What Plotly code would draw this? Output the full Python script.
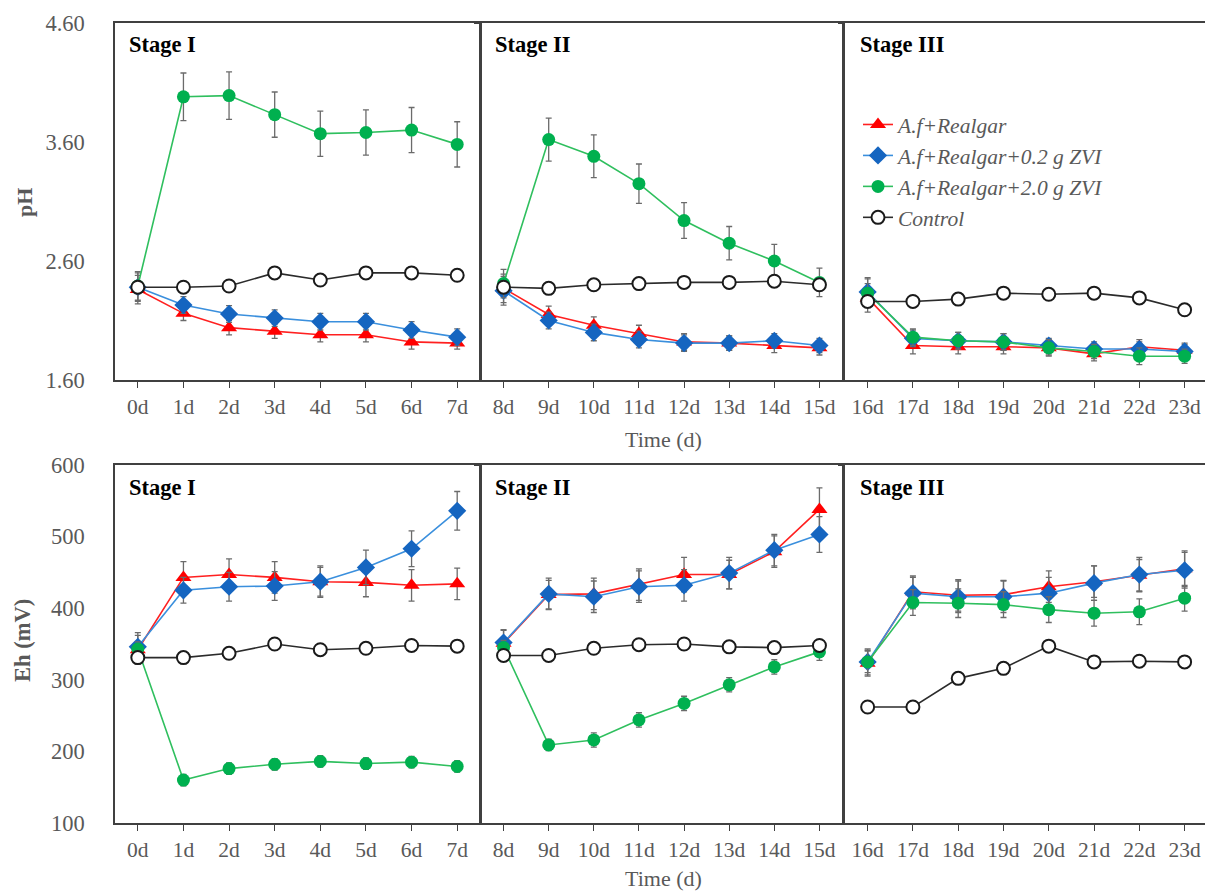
import plotly.graph_objects as go

# ---------------- data ----------------
days = list(range(24))
day_labels = [f"{d}d" for d in days]
stages = ["Stage I", "Stage II", "Stage III"]
series_names = ["A.f+Realgar", "A.f+Realgar+0.2 g ZVI", "A.f+Realgar+2.0 g ZVI", "Control"]

ph_red = [2.36, 2.16, 2.04, 2.01, 1.98, 1.98, 1.92, 1.91,
          2.37, 2.15, 2.06, 1.99, 1.92, 1.91, 1.89, 1.87,
          2.29, 1.89, 1.88, 1.88, 1.87, 1.82, 1.88, 1.85]
ph_blue = [2.38, 2.23, 2.155, 2.12, 2.09, 2.09, 2.02, 1.96,
           2.35, 2.10, 2.00, 1.94, 1.91, 1.91, 1.93, 1.89,
           2.34, 1.95, 1.93, 1.92, 1.89, 1.86, 1.86, 1.84]
ph_green = [2.39, 3.98, 3.99, 3.83, 3.67, 3.68, 3.70, 3.58,
            2.41, 3.62, 3.48, 3.25, 2.94, 2.75, 2.60, 2.42,
            2.33, 1.96, 1.93, 1.92, 1.87, 1.84, 1.80, 1.80]
ph_ctrl = [2.38, 2.38, 2.39, 2.50, 2.44, 2.50, 2.50, 2.48,
           2.38, 2.37, 2.40, 2.41, 2.42, 2.42, 2.43, 2.40,
           2.26, 2.26, 2.28, 2.33, 2.32, 2.33, 2.29, 2.19]

ph_red_err = [0.12, 0.06, 0.06, 0.06, 0.06, 0.06, 0.06, 0.05,
              0.12, 0.07, 0.07, 0.07, 0.07, 0.06, 0.06, 0.06,
              0.12, 0.07, 0.06, 0.06, 0.06, 0.06, 0.06, 0.06]
ph_blue_err = [0.12, 0.07, 0.07, 0.07, 0.07, 0.07, 0.07, 0.07,
               0.12, 0.07, 0.07, 0.07, 0.07, 0.06, 0.06, 0.06,
               0.12, 0.07, 0.07, 0.07, 0.06, 0.06, 0.06, 0.06]
ph_green_err = [0.12, 0.20, 0.20, 0.19, 0.19, 0.19, 0.19, 0.19,
                0.12, 0.18, 0.18, 0.165, 0.15, 0.14, 0.14, 0.12,
                0.12, 0.07, 0.07, 0.07, 0.07, 0.06, 0.07, 0.06]

eh_red = [342, 443, 447, 443, 437, 436, 432, 434,
          351, 419, 420, 433, 447, 447, 479, 538,
          323, 423, 418, 419, 430, 437, 446, 455]
eh_blue = [346, 425, 430, 431, 437, 457, 483, 536,
           352, 420, 416, 430, 432, 449, 481, 503,
           325, 421, 416, 416, 421, 435, 447, 453]
eh_green = [343, 160, 176, 182, 186, 183, 185, 179,
            345, 209, 216, 244, 267, 293, 318, 339,
            325, 408, 407, 405, 398, 393, 395, 414]
eh_ctrl = [331, 331, 337, 350, 342, 344, 348, 347,
           334, 334, 344, 349, 350, 346, 345, 348,
           262, 262, 302, 316, 347, 325, 326, 325]

eh_red_err = [20, 22, 22, 22, 20, 20, 22, 22,
              18, 20, 22, 22, 24, 20, 22, 30,
              18, 22, 22, 20, 22, 22, 22, 25]
eh_blue_err = [20, 18, 20, 20, 22, 24, 25, 27,
               18, 22, 22, 22, 22, 22, 22, 25,
               18, 22, 22, 22, 22, 24, 24, 25]
eh_green_err = [10, 8, 8, 8, 8, 8, 8, 8,
                10, 8, 10, 10, 10, 10, 10, 12,
                15, 18, 20, 18, 18, 18, 18, 18]

# ---------------- styling ----------------
W, H = 1205, 893
SERIF = "Liberation Serif, Times New Roman, serif"
TICKC = "#595959"
AXC = "#404040"
ERRC = "#6b6b6b"

styles = [
    dict(line="#FF2020", mcolor="#FF0000", symbol="triangle-up", size=14, mline=dict(width=0)),
    dict(line="#3A8FDD", mcolor="#1565C0", symbol="diamond", size=14, mline=dict(width=0)),
    dict(line="#2FBF5E", mcolor="#00B04F", symbol="circle", size=13, mline=dict(width=0)),
    dict(line="#2b2b2b", mcolor="white", symbol="circle", size=13, mline=dict(width=2, color="#1a1a1a")),
]

def px_x(p):
    return p / W

def px_y(p):
    return 1 - p / H

xdomains = [(px_x(115), px_x(480)), (px_x(481), px_x(842)), (px_x(845), 1.0)]
xranges = [(-0.5, 7.5), (7.5, 15.5), (15.5, 23.45)]
ydomains = [(px_y(380), px_y(23)), (px_y(823), px_y(465))]
yranges = [(1.6, 4.6), (100, 600)]
yticks = [[1.6, 2.6, 3.6, 4.6], [100, 200, 300, 400, 500, 600]]
yticktext = [["1.60", "2.60", "3.60", "4.60"], ["100", "200", "300", "400", "500", "600"]]

rows = [
    ([ph_red, ph_blue, ph_green, ph_ctrl], [ph_red_err, ph_blue_err, ph_green_err, None]),
    ([eh_red, eh_blue, eh_green, eh_ctrl], [eh_red_err, eh_blue_err, eh_green_err, None]),
]

fig = go.Figure()
layout = {}
ax_i = 0
for r, (vals, errs) in enumerate(rows):
    for c in range(3):
        ax_i += 1
        xa = "x" if ax_i == 1 else f"x{ax_i}"
        ya = "y" if ax_i == 1 else f"y{ax_i}"
        lo, hi = c * 8, c * 8 + 8
        for s in range(4):
            st = styles[s]
            err = errs[s]
            fig.add_trace(go.Scatter(
                x=days[lo:hi], y=vals[s][lo:hi],
                xaxis=xa, yaxis=ya,
                mode="lines+markers",
                name=series_names[s],
                legendgroup=series_names[s],
                showlegend=(r == 0 and c == 2),
                line=dict(color=st["line"], width=1.6),
                marker=dict(symbol=st["symbol"], size=st["size"], color=st["mcolor"], line=st["mline"]),
                error_y=(dict(type="data", array=err[lo:hi], color=ERRC, thickness=1.3, width=3)
                         if err is not None else dict(visible=False)),
                cliponaxis=False,
            ))
        xkey = "xaxis" if ax_i == 1 else f"xaxis{ax_i}"
        ykey = "yaxis" if ax_i == 1 else f"yaxis{ax_i}"
        layout[xkey] = dict(
            domain=list(xdomains[c]), range=list(xranges[c]), anchor=ya,
            tickmode="array", tickvals=days[lo:hi], ticktext=day_labels[lo:hi],
            showline=True, mirror=True, linecolor=AXC, linewidth=1.5,
            ticks="outside", ticklen=6, tickcolor=AXC, tickwidth=1.2,
            tickfont=dict(family=SERIF, size=21.5, color=TICKC),
            showgrid=False, zeroline=False, fixedrange=True, automargin=False,
        )
        layout[ykey] = dict(
            domain=list(ydomains[r]), range=list(yranges[r]), anchor=xa,
            tickmode="array",
            tickvals=yticks[r] if c == 0 else [yranges[r][0], yranges[r][1]],
            ticktext=yticktext[r] if c == 0 else None,
            showticklabels=(c == 0),
            ticks="" if c == 0 else "outside", ticklen=5, tickcolor=AXC,
            ticklabelstandoff=24,
            showline=True, mirror=(c != 2), linecolor=AXC, linewidth=1.5,
            tickfont=dict(family=SERIF, size=22.5, color=TICKC),
            showgrid=False, zeroline=False, fixedrange=True, automargin=False,
        )

annotations = []
stage_x = [127, 493, 858]
for r, sy in enumerate([45, 488]):
    for c in range(3):
        annotations.append(dict(
            text=f"<b>{stages[c]}</b>", xref="paper", yref="paper",
            x=px_x(stage_x[c]), y=px_y(sy), xanchor="left", yanchor="middle",
            showarrow=False, font=dict(family=SERIF, size=22.5, color="black")))
for ty in [440, 878]:
    annotations.append(dict(
        text="Time (d)", xref="paper", yref="paper",
        x=px_x(663), y=px_y(ty), xanchor="center", yanchor="middle",
        showarrow=False, font=dict(family=SERIF, size=22, color=TICKC)))
annotations.append(dict(
    text="<b>pH</b>", xref="paper", yref="paper", x=px_x(25), y=px_y(203),
    xanchor="center", yanchor="middle", textangle=-90, showarrow=False,
    font=dict(family=SERIF, size=22, color=TICKC)))
annotations.append(dict(
    text="<b>Eh (mV)</b>", xref="paper", yref="paper", x=px_x(22), y=px_y(641),
    xanchor="center", yanchor="middle", textangle=-90, showarrow=False,
    font=dict(family=SERIF, size=22.5, color=TICKC)))

fig.update_layout(
    width=W, height=H,
    margin=dict(l=0, r=0, t=0, b=0, autoexpand=False),
    paper_bgcolor="white", plot_bgcolor="white",
    showlegend=True,
    legend=dict(
        x=px_x(858), y=px_y(104), xanchor="left", yanchor="top",
        bgcolor="rgba(0,0,0,0)", borderwidth=0,
        font=dict(family=SERIF, size=21.5, color=TICKC, style="italic"),
        tracegroupgap=0, itemwidth=30,
    ),
    annotations=annotations,
    **layout,
)

fig.write_html("out.html")
